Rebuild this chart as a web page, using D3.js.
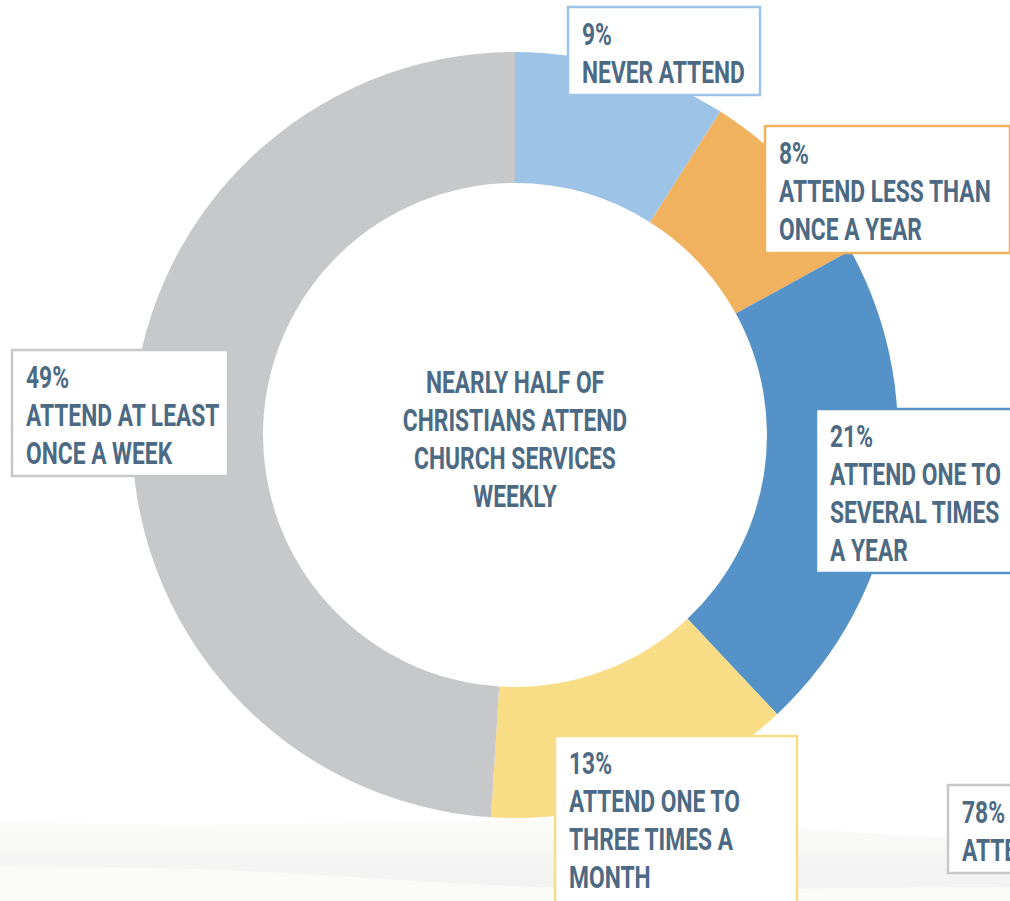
<!DOCTYPE html>
<html>
<head>
<meta charset="utf-8">
<script src="https://cdn.jsdelivr.net/npm/d3@7/dist/d3.min.js"></script>
<style>
  html, body { margin: 0; padding: 0; background: #ffffff; }
  svg { display: block; }
  text { font-family: Roboto, "Liberation Sans", sans-serif; font-weight: bold; fill: #4c6a84; }
</style>
</head>
<body>
<script>
// Church attendance among Christians
const categories = [
  "NEVER ATTEND",
  "ATTEND LESS THAN ONCE A YEAR",
  "ATTEND ONE TO SEVERAL TIMES A YEAR",
  "ATTEND ONE TO THREE TIMES A MONTH",
  "ATTEND AT LEAST ONCE A WEEK"
];
const values = [9, 8, 21, 13, 49];
const colors = ["#9dc3e7", "#f1b260", "#5592c7", "#f8dd86", "#c7c8ca"];

// Wrapped label lines per category
const labelLines = [
  ["NEVER ATTEND"],
  ["ATTEND LESS THAN", "ONCE A YEAR"],
  ["ATTEND ONE TO", "SEVERAL TIMES", "A YEAR"],
  ["ATTEND ONE TO", "THREE TIMES A", "MONTH"],
  ["ATTEND AT LEAST", "ONCE A WEEK"]
];
const centerTitle = ["NEARLY HALF OF", "CHRISTIANS ATTEND", "CHURCH SERVICES", "WEEKLY"];

// Neighbouring panel callout, cut off at the page edge
const sideValue = 78;
const sideLines = ["ATTEND"];

// Callout box layout: [x, y, width, height]
const boxes = [
  [568, 7, 192, 88],
  [765, 126, 245, 127],
  [816, 409, 200, 164],
  [555, 736, 242, 170],
  [12, 350, 216, 126]
];

const W = 1010, H = 901;
const cx = 515, cy = 435, rOuter = 383, rInner = 252;
const lineH = 38;
const fontSize = 31;

const svg = d3.select("body").append("svg")
  .attr("width", W).attr("height", H);

// Condensed lettering: squeeze the bold face horizontally
const probe = svg.append("text").attr("font-size", fontSize).text("NEVER ATTEND");
const condense = 163 / probe.node().getComputedTextLength();
probe.remove();

function drawText(sel, x, y, anchor) {
  return sel.append("text")
    .attr("transform", `translate(${x},${y}) scale(${condense},1)`)
    .attr("text-anchor", anchor || "start")
    .attr("font-size", fontSize);
}

// Soft background wave along the bottom
const defs = svg.append("defs");
const g1 = defs.append("linearGradient").attr("id", "waveA").attr("x1", 0).attr("y1", 0).attr("x2", 0).attr("y2", 1);
g1.append("stop").attr("offset", "0%").attr("stop-color", "#fbfbfa");
g1.append("stop").attr("offset", "100%").attr("stop-color", "#f0f0f0");

const curve = d3.line().curve(d3.curveBasis);
svg.append("path")
  .attr("d", curve([[0, 822], [250, 826], [550, 818], [800, 828], [1010, 842]]) + "L1010,901L0,901Z")
  .attr("fill", "url(#waveA)");
svg.append("path")
  .attr("d", curve([[0, 866], [250, 868], [550, 892], [800, 888], [1010, 887]]) + "L1010,901L0,901Z")
  .attr("fill", "#fafaf8");

// Donut
const pie = d3.pie().sort(null).value(d => d)(values);
const arc = d3.arc().innerRadius(rInner).outerRadius(rOuter);
svg.append("g").attr("transform", `translate(${cx},${cy})`)
  .selectAll("path").data(pie).join("path")
  .attr("d", arc)
  .attr("fill", (d, i) => colors[i]);

// Centre title
const title = svg.append("g");
centerTitle.forEach((line, i) => drawText(title, cx, 393 + i * lineH, "middle").text(line));

// Callout boxes
const fmt = v => v + "%";
const callouts = svg.append("g");
values.forEach((v, i) => {
  const [bx, by, bw, bh] = boxes[i];
  const g = callouts.append("g");
  g.append("rect")
    .attr("x", bx).attr("y", by).attr("width", bw).attr("height", bh)
    .attr("fill", "#ffffff").attr("stroke", colors[i]).attr("stroke-width", 2.5);
  [fmt(v)].concat(labelLines[i]).forEach((line, j) =>
    drawText(g, bx + 14, by + 38 + j * lineH).text(line));
});

// Side callout
const sg = svg.append("g");
sg.append("rect").attr("x", 948).attr("y", 785).attr("width", 80).attr("height", 88)
  .attr("fill", "#ffffff").attr("stroke", "#c7c8ca").attr("stroke-width", 2.5);
[fmt(sideValue)].concat(sideLines).forEach((line, j) =>
  drawText(sg, 962, 823 + j * lineH).text(line));
</script>
</body>
</html>
